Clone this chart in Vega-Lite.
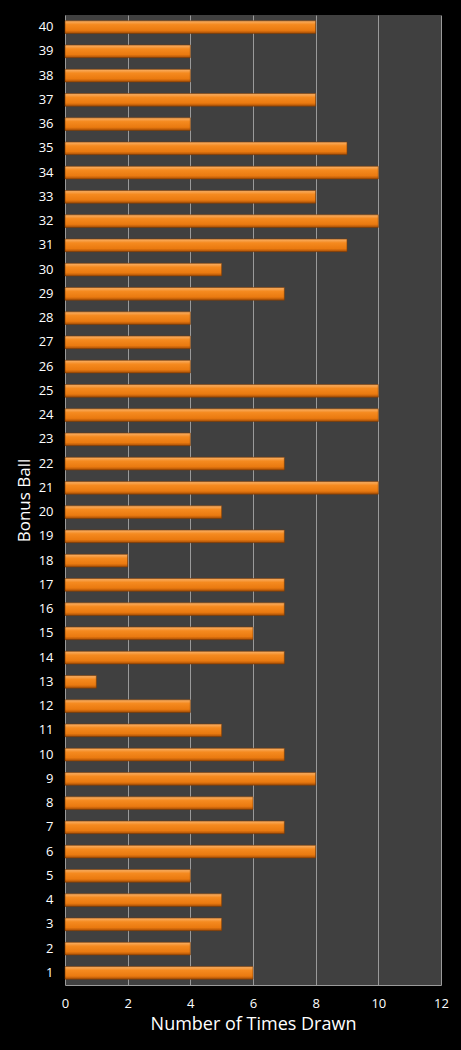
{
  "$schema": "https://vega.github.io/schema/vega-lite/v6.json",
  "autosize": {"type": "none"},
  "padding": {"left": 65, "top": 15, "right": 20, "bottom": 65},
  "width": 376,
  "height": 970,
  "background": "#000000",
  "data": {
    "values": [
      {"ball": 1, "count": 6}, {"ball": 2, "count": 4}, {"ball": 3, "count": 5},
      {"ball": 4, "count": 5}, {"ball": 5, "count": 4}, {"ball": 6, "count": 8},
      {"ball": 7, "count": 7}, {"ball": 8, "count": 6}, {"ball": 9, "count": 8},
      {"ball": 10, "count": 7}, {"ball": 11, "count": 5}, {"ball": 12, "count": 4},
      {"ball": 13, "count": 1}, {"ball": 14, "count": 7}, {"ball": 15, "count": 6},
      {"ball": 16, "count": 7}, {"ball": 17, "count": 7}, {"ball": 18, "count": 2},
      {"ball": 19, "count": 7}, {"ball": 20, "count": 5}, {"ball": 21, "count": 10},
      {"ball": 22, "count": 7}, {"ball": 23, "count": 4}, {"ball": 24, "count": 10},
      {"ball": 25, "count": 10}, {"ball": 26, "count": 4}, {"ball": 27, "count": 4},
      {"ball": 28, "count": 4}, {"ball": 29, "count": 7}, {"ball": 30, "count": 5},
      {"ball": 31, "count": 9}, {"ball": 32, "count": 10}, {"ball": 33, "count": 8},
      {"ball": 34, "count": 10}, {"ball": 35, "count": 9}, {"ball": 36, "count": 4},
      {"ball": 37, "count": 8}, {"ball": 38, "count": 4}, {"ball": 39, "count": 4},
      {"ball": 40, "count": 8}
    ]
  },
  "mark": {
    "type": "bar",
    "color": {
      "gradient": "linear",
      "x1": 0, "y1": 0, "x2": 0, "y2": 1,
      "stops": [
        {"offset": 0, "color": "#f9b26a"},
        {"offset": 0.3, "color": "#f58a1f"},
        {"offset": 0.75, "color": "#ea7a10"},
        {"offset": 1, "color": "#a84e05"}
      ]
    },
    "stroke": "#7a3a05",
    "strokeWidth": 0.6
  },
  "encoding": {
    "y": {
      "field": "ball",
      "type": "ordinal",
      "sort": "descending",
      "scale": {"paddingInner": 0.48, "paddingOuter": 0.24},
      "axis": {
        "title": "Bonus Ball",
        "titleColor": "#ffffff",
        "titleFont": "Open Sans",
        "titleFontSize": 17,
        "titleFontWeight": "normal",
        "titlePadding": 5,
        "labelColor": "#ffffff",
        "labelFont": "Open Sans",
        "labelFontSize": 13,
        "labelPadding": 12,
        "ticks": false,
        "domain": false
      }
    },
    "x": {
      "field": "count",
      "type": "quantitative",
      "scale": {"domain": [0, 12]},
      "axis": {
        "values": [0, 2, 4, 6, 8, 10, 12],
        "labelFlush": false,
        "title": "Number of Times Drawn",
        "titleColor": "#ffffff",
        "titleFont": "Open Sans",
        "titleFontSize": 18,
        "titleFontWeight": "normal",
        "titlePadding": 5,
        "labelColor": "#ffffff",
        "labelFont": "Open Sans",
        "labelFontSize": 13,
        "labelPadding": 12,
        "ticks": false,
        "domainColor": "#9a9a9a",
        "gridColor": "#9a9a9a",
        "gridWidth": 1
      }
    }
  },
  "config": {
    "view": {"fill": "#404040", "stroke": null}
  }
}
